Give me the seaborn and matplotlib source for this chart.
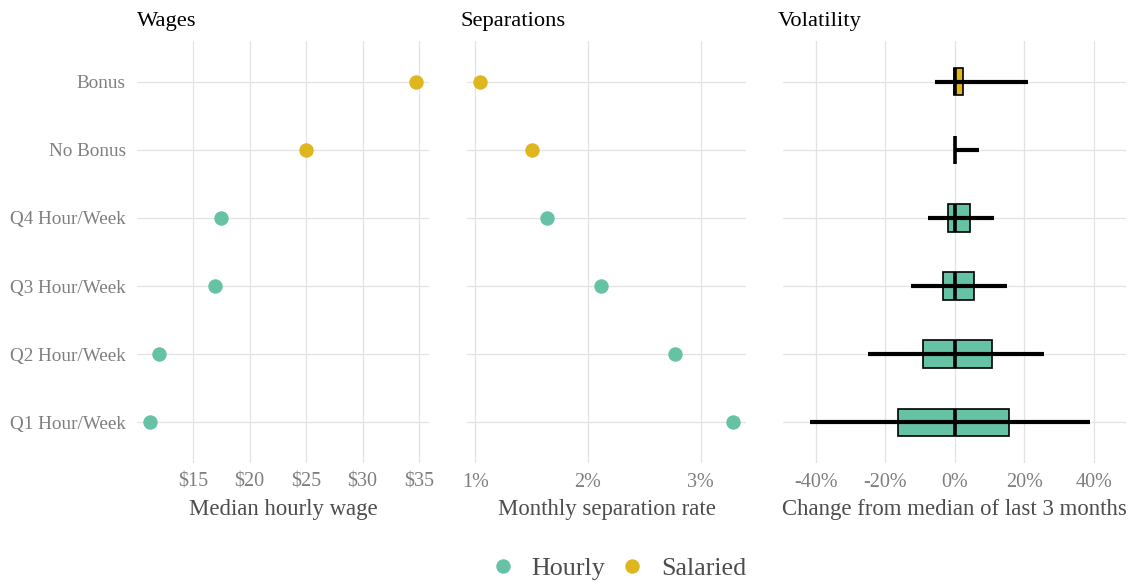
import numpy as np
import pandas as pd
import matplotlib
matplotlib.use("Agg")  # no display in the sandbox
import matplotlib.pyplot as plt
from matplotlib.lines import Line2D
import seaborn as sns

# ---- data --------------------------------------------------------------
categories = ["Bonus", "No Bonus", "Q4 Hour/Week", "Q3 Hour/Week",
              "Q2 Hour/Week", "Q1 Hour/Week"]
pay_type = ["Salaried", "Salaried", "Hourly", "Hourly", "Hourly", "Hourly"]

median_wage = [34.7, 25.0, 17.5, 16.9, 12.0, 11.2]          # $ / hour
separation_rate = [1.04, 1.50, 1.64, 2.12, 2.77, 3.29]      # % / month

# volatility: change from median of last 3 months (%)
vol_low = [-5.7, 0.0, -7.8, -12.5, -25.0, -41.7]
vol_q1 = [-0.3, 0.0, -1.8, -3.4, -9.1, -16.3]
vol_median = [0.0, 0.0, 0.0, 0.0, 0.0, 0.0]
vol_q3 = [2.3, 0.0, 4.3, 5.5, 10.7, 15.7]
vol_high = [21.0, 7.0, 11.3, 15.1, 25.7, 38.9]

wage_ticks = [15, 20, 25, 30, 35]
sep_ticks = [1, 2, 3]
vol_ticks = [-40, -20, 0, 20, 40]

palette = {"Hourly": "#66C2A5", "Salaried": "#DDB620"}

df = pd.DataFrame({
    "category": categories,
    "pay_type": pay_type,
    "wage": median_wage,
    "sep": separation_rate,
})

# ---- style -------------------------------------------------------------
sns.set_theme(style="whitegrid")
plt.rcParams["font.family"] = ["Liberation Serif", "DejaVu Serif"]
plt.rcParams["grid.color"] = "#E3E3E3"
plt.rcParams["grid.linewidth"] = 0.9

TICK_COLOR = "#7F7F7F"
LABEL_COLOR = "#4D4D4D"
W, H = 1134, 583

fig = plt.figure(figsize=(W / 100, H / 100), dpi=100)
bottom = (H - 463) / H
height = (463 - 41) / H
panel_px = [(137, 429), (467, 746), (783, 1126)]
ax1, ax2, ax3 = [fig.add_axes([l / W, bottom, (r - l) / W, height])
                 for l, r in panel_px]


def pad_limits(vals, frac=0.05):
    lo, hi = min(vals), max(vals)
    span = hi - lo
    return lo - frac * span, hi + frac * span


# Wages
sns.stripplot(data=df, x="wage", y="category", hue="pay_type", order=categories,
              palette=palette, jitter=False, size=10.4, linewidth=0,
              legend=False, ax=ax1, zorder=3)
ax1.set_xlim(*pad_limits(median_wage))
ax1.set_xticks(wage_ticks)
ax1.set_xticklabels([f"${t}" for t in wage_ticks])
ax1.set_xlabel("Median hourly wage")

# Separations
sns.stripplot(data=df, x="sep", y="category", hue="pay_type", order=categories,
              palette=palette, jitter=False, size=10.4, linewidth=0,
              legend=False, ax=ax2, zorder=3)
ax2.set_xlim(*pad_limits(separation_rate))
ax2.set_xticks(sep_ticks)
ax2.set_xticklabels([f"{t}%" for t in sep_ticks])
ax2.set_xlabel("Monthly separation rate")

# Volatility: box = IQR, line = whisker range, thick tick = median
pos = np.arange(len(categories))
box_h = 0.4
ax3.barh(pos, np.array(vol_q3) - np.array(vol_q1), left=vol_q1, height=box_h,
         color=[palette[p] for p in pay_type], edgecolor="black",
         linewidth=1.2, zorder=3)
ax3.hlines(pos, vol_low, vol_high, color="black", linewidth=3, zorder=4)
ax3.vlines(vol_median, pos - box_h / 2, pos + box_h / 2, color="black",
           linewidth=2.6, zorder=5)
ax3.set_xlim(-49.4, 49.3)
ax3.set_xticks(vol_ticks)
ax3.set_xticklabels([f"{t}%" for t in vol_ticks])
ax3.set_xlabel("Change from median of last 3 months")

titles = ["Wages", "Separations", "Volatility"]
title_shift = [0, -6, -5]   # px, titles on panels 2/3 sit a touch left
for i, (ax, title) in enumerate(zip([ax1, ax2, ax3], titles)):
    ax.set_yticks(pos)
    ax.set_yticklabels(categories if i == 0 else [])
    ax.set_ylim(len(categories) - 1 + 0.6, -0.6)
    ax.set_ylabel("")
    ax.grid(True, axis="both")
    ax.set_axisbelow(True)
    for s in ax.spines.values():
        s.set_visible(False)
    ax.tick_params(axis="x", length=0, pad=7, labelsize=14.5,
                   labelcolor=TICK_COLOR)
    ax.tick_params(axis="y", length=0, pad=8, labelsize=13.8,
                   labelcolor=TICK_COLOR)
    ax.xaxis.label.set_size(16.4)
    ax.xaxis.label.set_color(LABEL_COLOR)
    ax.xaxis.labelpad = 5
    t = ax.set_title(title, loc="left", fontsize=16.2, color="black", pad=11)
    l, r = panel_px[i]
    t.set_x(title_shift[i] / (r - l))
    ax.set_facecolor("white")

handles = [Line2D([], [], marker="o", linestyle="", markersize=10.4,
                  markerfacecolor=palette[k], markeredgewidth=0)
           for k in ["Hourly", "Salaried"]]
fig.legend(handles, ["Hourly", "Salaried"], loc="center",
           bbox_to_anchor=(618 / W, 15 / H), ncol=2, frameon=False,
           fontsize=18.7, labelcolor=LABEL_COLOR, handlelength=1.0,
           handletextpad=0.6, columnspacing=0.55)

fig.savefig("out.png", dpi=100, facecolor="white")
